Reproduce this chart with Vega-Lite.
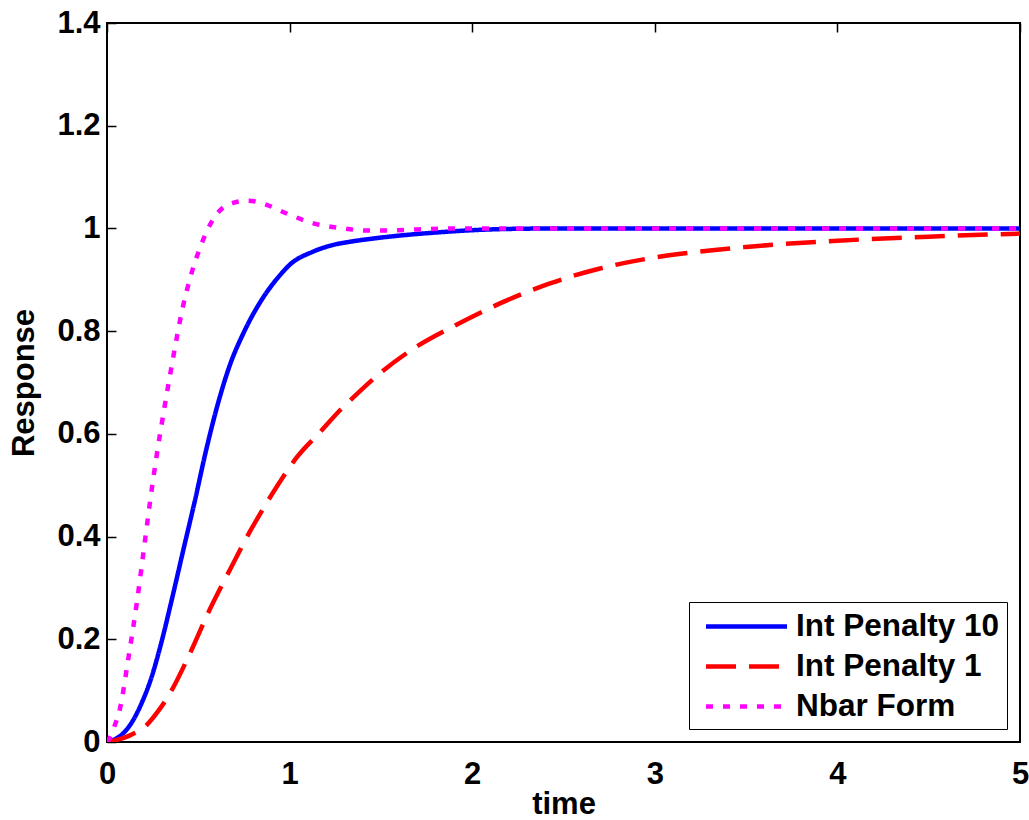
{
  "$schema": "https://vega.github.io/schema/vega-lite/v6.json",
  "width": 913,
  "height": 719,
  "autosize": "none",
  "padding": {"left": 107, "top": 23, "right": 9, "bottom": 78},
  "background": "white",
  "config": {
    "view": {"stroke": "black", "strokeWidth": 2},
    "font": "Liberation Sans",
    "axis": {
      "grid": true,
      "gridColor": "black",
      "gridOpacity": 1,
      "gridWidth": 1.5,
      "gridDash": [9, 3000],
      "domain": false,
      "ticks": false,
      "tickSize": 0,
      "labelFlush": false,
      "labelFont": "Liberation Sans",
      "labelFontWeight": "bold",
      "labelFontSize": 31,
      "labelColor": "black",
      "titleFont": "Liberation Sans",
      "titleFontWeight": "bold",
      "titleFontSize": 31,
      "titleColor": "black"
    }
  },
  "data": {
    "values": [
      {"series": "Int Penalty 10", "t": 0, "v": 0},
      {"series": "Int Penalty 10", "t": 0.035, "v": 0.004},
      {"series": "Int Penalty 10", "t": 0.08, "v": 0.014},
      {"series": "Int Penalty 10", "t": 0.144, "v": 0.043},
      {"series": "Int Penalty 10", "t": 0.19, "v": 0.076},
      {"series": "Int Penalty 10", "t": 0.24, "v": 0.122},
      {"series": "Int Penalty 10", "t": 0.295, "v": 0.19},
      {"series": "Int Penalty 10", "t": 0.354, "v": 0.276},
      {"series": "Int Penalty 10", "t": 0.418, "v": 0.374},
      {"series": "Int Penalty 10", "t": 0.482, "v": 0.471},
      {"series": "Int Penalty 10", "t": 0.542, "v": 0.567},
      {"series": "Int Penalty 10", "t": 0.61, "v": 0.662},
      {"series": "Int Penalty 10", "t": 0.674, "v": 0.735},
      {"series": "Int Penalty 10", "t": 0.747, "v": 0.796},
      {"series": "Int Penalty 10", "t": 0.847, "v": 0.861},
      {"series": "Int Penalty 10", "t": 0.95, "v": 0.91},
      {"series": "Int Penalty 10", "t": 1.0, "v": 0.929},
      {"series": "Int Penalty 10", "t": 1.13, "v": 0.955},
      {"series": "Int Penalty 10", "t": 1.24, "v": 0.968},
      {"series": "Int Penalty 10", "t": 1.33, "v": 0.974},
      {"series": "Int Penalty 10", "t": 1.45, "v": 0.98},
      {"series": "Int Penalty 10", "t": 1.6, "v": 0.986},
      {"series": "Int Penalty 10", "t": 1.8, "v": 0.992},
      {"series": "Int Penalty 10", "t": 1.97, "v": 0.996},
      {"series": "Int Penalty 10", "t": 2.2, "v": 0.999},
      {"series": "Int Penalty 10", "t": 2.5, "v": 1.0},
      {"series": "Int Penalty 10", "t": 3.0, "v": 1.0},
      {"series": "Int Penalty 10", "t": 4.0, "v": 1.0},
      {"series": "Int Penalty 10", "t": 5.0, "v": 1.0},
      {"series": "Int Penalty 1", "t": 0, "v": 0},
      {"series": "Int Penalty 1", "t": 0.053, "v": 0.004},
      {"series": "Int Penalty 1", "t": 0.12, "v": 0.012},
      {"series": "Int Penalty 1", "t": 0.217, "v": 0.033},
      {"series": "Int Penalty 1", "t": 0.28, "v": 0.06},
      {"series": "Int Penalty 1", "t": 0.345, "v": 0.095},
      {"series": "Int Penalty 1", "t": 0.455, "v": 0.173},
      {"series": "Int Penalty 1", "t": 0.564, "v": 0.259},
      {"series": "Int Penalty 1", "t": 0.674, "v": 0.336},
      {"series": "Int Penalty 1", "t": 0.783, "v": 0.41},
      {"series": "Int Penalty 1", "t": 0.865, "v": 0.46},
      {"series": "Int Penalty 1", "t": 0.966, "v": 0.517},
      {"series": "Int Penalty 1", "t": 1.039, "v": 0.554},
      {"series": "Int Penalty 1", "t": 1.166, "v": 0.603},
      {"series": "Int Penalty 1", "t": 1.276, "v": 0.646},
      {"series": "Int Penalty 1", "t": 1.331, "v": 0.665},
      {"series": "Int Penalty 1", "t": 1.495, "v": 0.718},
      {"series": "Int Penalty 1", "t": 1.696, "v": 0.77},
      {"series": "Int Penalty 1", "t": 1.895, "v": 0.809},
      {"series": "Int Penalty 1", "t": 2.152, "v": 0.854},
      {"series": "Int Penalty 1", "t": 2.426, "v": 0.893},
      {"series": "Int Penalty 1", "t": 2.7, "v": 0.922},
      {"series": "Int Penalty 1", "t": 2.974, "v": 0.942},
      {"series": "Int Penalty 1", "t": 3.25, "v": 0.955},
      {"series": "Int Penalty 1", "t": 3.5, "v": 0.964},
      {"series": "Int Penalty 1", "t": 4.0, "v": 0.976},
      {"series": "Int Penalty 1", "t": 4.5, "v": 0.984},
      {"series": "Int Penalty 1", "t": 5.0, "v": 0.99},
      {"series": "Nbar Form", "t": 0, "v": 0},
      {"series": "Nbar Form", "t": 0.01, "v": 0.005},
      {"series": "Nbar Form", "t": 0.04, "v": 0.03},
      {"series": "Nbar Form", "t": 0.071, "v": 0.065},
      {"series": "Nbar Form", "t": 0.117, "v": 0.163},
      {"series": "Nbar Form", "t": 0.162, "v": 0.268},
      {"series": "Nbar Form", "t": 0.199, "v": 0.367},
      {"series": "Nbar Form", "t": 0.235, "v": 0.466},
      {"series": "Nbar Form", "t": 0.272, "v": 0.558},
      {"series": "Nbar Form", "t": 0.315, "v": 0.652},
      {"series": "Nbar Form", "t": 0.36, "v": 0.744},
      {"series": "Nbar Form", "t": 0.414, "v": 0.845},
      {"series": "Nbar Form", "t": 0.455, "v": 0.903},
      {"series": "Nbar Form", "t": 0.509, "v": 0.962},
      {"series": "Nbar Form", "t": 0.582, "v": 1.018},
      {"series": "Nbar Form", "t": 0.674, "v": 1.048},
      {"series": "Nbar Form", "t": 0.774, "v": 1.054},
      {"series": "Nbar Form", "t": 0.874, "v": 1.046},
      {"series": "Nbar Form", "t": 0.984, "v": 1.029},
      {"series": "Nbar Form", "t": 1.13, "v": 1.01},
      {"series": "Nbar Form", "t": 1.294, "v": 1.0},
      {"series": "Nbar Form", "t": 1.42, "v": 0.996},
      {"series": "Nbar Form", "t": 1.55, "v": 0.996},
      {"series": "Nbar Form", "t": 1.7, "v": 0.998},
      {"series": "Nbar Form", "t": 1.9, "v": 1.0},
      {"series": "Nbar Form", "t": 2.5, "v": 1.0},
      {"series": "Nbar Form", "t": 3.5, "v": 1.0},
      {"series": "Nbar Form", "t": 5.0, "v": 1.0}
    ]
  },
  "layer": [
    {
      "mark": {"type": "line", "strokeWidth": 4.5, "interpolate": "monotone", "clip": true, "strokeCap": "butt"},
      "encoding": {
        "x": {
          "field": "t", "type": "quantitative",
          "scale": {"domain": [0, 5], "nice": false, "zero": false},
          "axis": {"orient": "bottom", "values": [0, 1, 2, 3, 4, 5], "format": "~g", "labelPadding": 17, "titlePadding": 0},
          "title": "time"
        },
        "y": {
          "field": "v", "type": "quantitative",
          "scale": {"domain": [0, 1.4], "nice": false},
          "axis": {"orient": "left", "values": [0, 0.2, 0.4, 0.6, 0.8, 1, 1.2, 1.4], "format": "~g", "labelPadding": 7, "titlePadding": 16},
          "title": "Response"
        },
        "color": {
          "field": "series", "type": "nominal",
          "scale": {"domain": ["Int Penalty 10", "Int Penalty 1", "Nbar Form"], "range": ["#0000ff", "#ff0000", "#ff00ff"]},
          "legend": {
            "title": null,
            "orient": "bottom-right",
            "offset": 13,
            "padding": 7,
            "strokeColor": "black",
            "fillColor": "white",
            "symbolType": "M-2.7,0H2.7",
            "symbolSize": 900,
            "symbolStrokeWidth": 4.5,
            "symbolOffset": 33,
            "labelOffset": 32,
            "labelFont": "Liberation Sans",
            "labelFontWeight": "bold",
            "labelFontSize": 31.5,
            "labelColor": "black",
            "labelLimit": 400,
            "rowPadding": 7
          }
        },
        "strokeDash": {
          "field": "series", "type": "nominal",
          "scale": {"domain": ["Int Penalty 10", "Int Penalty 1", "Nbar Form"], "range": [[1, 0], [30, 13], [7, 10]]},
          "legend": {
            "title": null,
            "orient": "bottom-right",
            "offset": 13,
            "padding": 7,
            "strokeColor": "black",
            "fillColor": "white",
            "symbolType": "M-2.7,0H2.7",
            "symbolSize": 900,
            "symbolStrokeWidth": 4.5,
            "symbolOffset": 33,
            "labelOffset": 32,
            "labelFont": "Liberation Sans",
            "labelFontWeight": "bold",
            "labelFontSize": 31.5,
            "labelColor": "black",
            "labelLimit": 400,
            "rowPadding": 7
          }
        }
      }
    },
    {
      "mark": {"type": "point", "opacity": 0},
      "encoding": {
        "x": {
          "field": "t", "type": "quantitative",
          "axis": {"orient": "top", "values": [0, 1, 2, 3, 4, 5], "labels": false, "title": null}
        },
        "y": {
          "field": "v", "type": "quantitative",
          "axis": {"orient": "right", "values": [0, 0.2, 0.4, 0.6, 0.8, 1, 1.2, 1.4], "labels": false, "title": null}
        }
      }
    }
  ],
  "resolve": {"axis": {"x": "independent", "y": "independent"}}
}
